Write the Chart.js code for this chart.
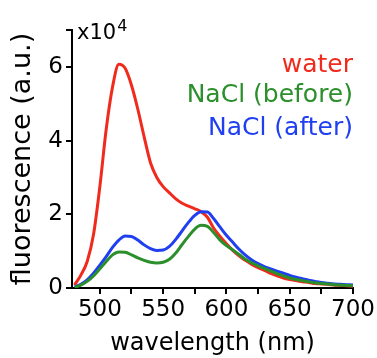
<!DOCTYPE html>
<html>
<head>
<meta charset="utf-8">
<script src="https://cdn.jsdelivr.net/npm/chart.js@4.4.1/dist/chart.umd.min.js"></script>
<style>
  body { margin: 0; background: #fff; }
  canvas { display: block; }
</style>
</head>
<body>
<canvas id="fluoChart" width="377" height="358"></canvas>
<script>
// Emission spectra, wavelength in nm, fluorescence in a.u.
const wavelengths = [480, 485, 490, 495, 500, 505, 510, 515, 520, 525, 530, 535, 540, 545, 550,
    555, 560, 565, 570, 575, 580, 585, 590, 595, 600, 605, 610, 615, 620, 625, 630, 635, 640,
    645, 650, 655, 660, 665, 670, 675, 680, 685, 690, 695, 700];

const water = [800, 3500, 7200, 14500, 27500, 43000, 54500, 60700, 59600, 55000, 48500, 41000,
    34000, 30000, 27500, 25800, 24200, 23000, 22200, 21500, 20700, 19200, 16200, 14000, 12000,
    10200, 8700, 7500, 6400, 5500, 4800, 4000, 3300, 2700, 2300, 2000, 1700, 1500, 1200, 1100,
    1000, 800, 700, 600, 500];

const naclBefore = [200, 800, 1800, 3300, 5200, 7200, 9000, 9800, 9700, 9000, 8200, 7500, 7000,
    6800, 7000, 7800, 9500, 11800, 14000, 16000, 17000, 16700, 15000, 13000, 11500, 10300,
    9100, 7800, 6800, 6000, 5300, 4600, 3900, 3300, 2700, 2300, 2000, 1700, 1400, 1200, 1100,
    900, 800, 700, 600];

const naclAfter = [300, 1000, 2200, 4000, 6200, 8500, 11000, 13000, 14100, 14000, 13000, 11700,
    10700, 10200, 10300, 11300, 13200, 15500, 17800, 19700, 20700, 20600, 18800, 16500, 14300,
    12400, 10500, 8900, 7600, 6600, 5800, 5200, 4600, 4000, 3400, 2900, 2500, 2100, 1800, 1500,
    1300, 1100, 1000, 900, 800];

const seriesNames = ['water', 'NaCl (before)', 'NaCl (after)'];
const seriesColors = ['#f02b1e', '#2b8f2b', '#1f3ff0'];

const xTicks = [500, 525, 550, 575, 600, 625, 650, 675, 700];
const yTicks = [0, 20000, 40000, 60000, 70000];

const FONT = 'DejaVu Sans';
Chart.defaults.font.family = FONT;
Chart.defaults.color = '#000';

function toPoints(values) {
    return wavelengths.map((w, i) => ({ x: w, y: values[i] }));
}

// Coloured series names, right aligned in the upper right corner
const seriesLabels = {
    id: 'seriesLabels',
    afterDraw(chart) {
        const ctx = chart.ctx;
        const baselines = [72, 102, 135];
        ctx.save();
        ctx.font = '25px "' + FONT + '"';
        ctx.textAlign = 'right';
        ctx.textBaseline = 'alphabetic';
        seriesNames.forEach((name, i) => {
            ctx.fillStyle = seriesColors[i];
            ctx.fillText(name, 353, baselines[i]);
        });
        ctx.restore();
    }
};

// "x10^4" multiplier beside the top of the y axis
const axisMultiplier = {
    id: 'axisMultiplier',
    afterDraw(chart) {
        const ctx = chart.ctx;
        ctx.save();
        ctx.fillStyle = '#000';
        ctx.textAlign = 'left';
        ctx.textBaseline = 'alphabetic';
        ctx.font = '21px "' + FONT + '"';
        ctx.fillText('x10', 77, 39);
        const w = ctx.measureText('x10').width;
        ctx.font = '16px "' + FONT + '"';
        ctx.fillText('4', 77 + w + 1, 31);
        ctx.restore();
    }
};

var ctxFluo = document.getElementById('fluoChart').getContext('2d');
var fluoChart = new Chart(ctxFluo, {
    type: 'line',
    data: {
        datasets: [
            { label: seriesNames[0], data: toPoints(water), borderColor: seriesColors[0], order: 2 },
            { label: seriesNames[1], data: toPoints(naclBefore), borderColor: seriesColors[1], order: 0 },
            { label: seriesNames[2], data: toPoints(naclAfter), borderColor: seriesColors[2], order: 1 }
        ]
    },
    options: {
        responsive: false,
        animation: false,
        layout: { padding: { top: 30, right: 24, left: 0, bottom: 0 } },
        elements: {
            line: { borderWidth: 3, cubicInterpolationMode: 'monotone', fill: false },
            point: { radius: 0 }
        },
        plugins: {
            legend: { display: false },
            tooltip: { enabled: false }
        },
        scales: {
            x: {
                type: 'linear',
                min: 478,
                max: 700,
                afterBuildTicks: scale => { scale.ticks = xTicks.map(v => ({ value: v })); },
                afterFit: scale => { scale.height = 70; },
                border: { color: '#000', width: 2 },
                grid: { drawOnChartArea: false, drawTicks: true, tickLength: 6, color: '#000', lineWidth: 2 },
                ticks: {
                    autoSkip: false,
                    maxRotation: 0,
                    padding: 2,
                    font: { size: 23 },
                    callback: v => (v % 50 === 0 ? v : '')
                },
                title: {
                    display: true,
                    text: 'wavelength (nm)',
                    font: { size: 24 },
                    padding: { top: 0, bottom: 0 }
                }
            },
            y: {
                min: 0,
                max: 70000,
                afterBuildTicks: scale => { scale.ticks = yTicks.map(v => ({ value: v })); },
                afterFit: scale => { scale.width = 72; },
                border: { color: '#000', width: 2 },
                grid: { drawOnChartArea: false, drawTicks: true, tickLength: 6, color: '#000', lineWidth: 2 },
                ticks: {
                    padding: 3,
                    font: { size: 23 },
                    callback: v => (v === 70000 ? '' : v / 10000)
                },
                title: {
                    display: true,
                    text: 'fluorescence (a.u.)',
                    font: { size: 27 },
                    padding: { top: 7, bottom: 0 }
                }
            }
        }
    },
    plugins: [seriesLabels, axisMultiplier]
});
</script>
</body>
</html>
